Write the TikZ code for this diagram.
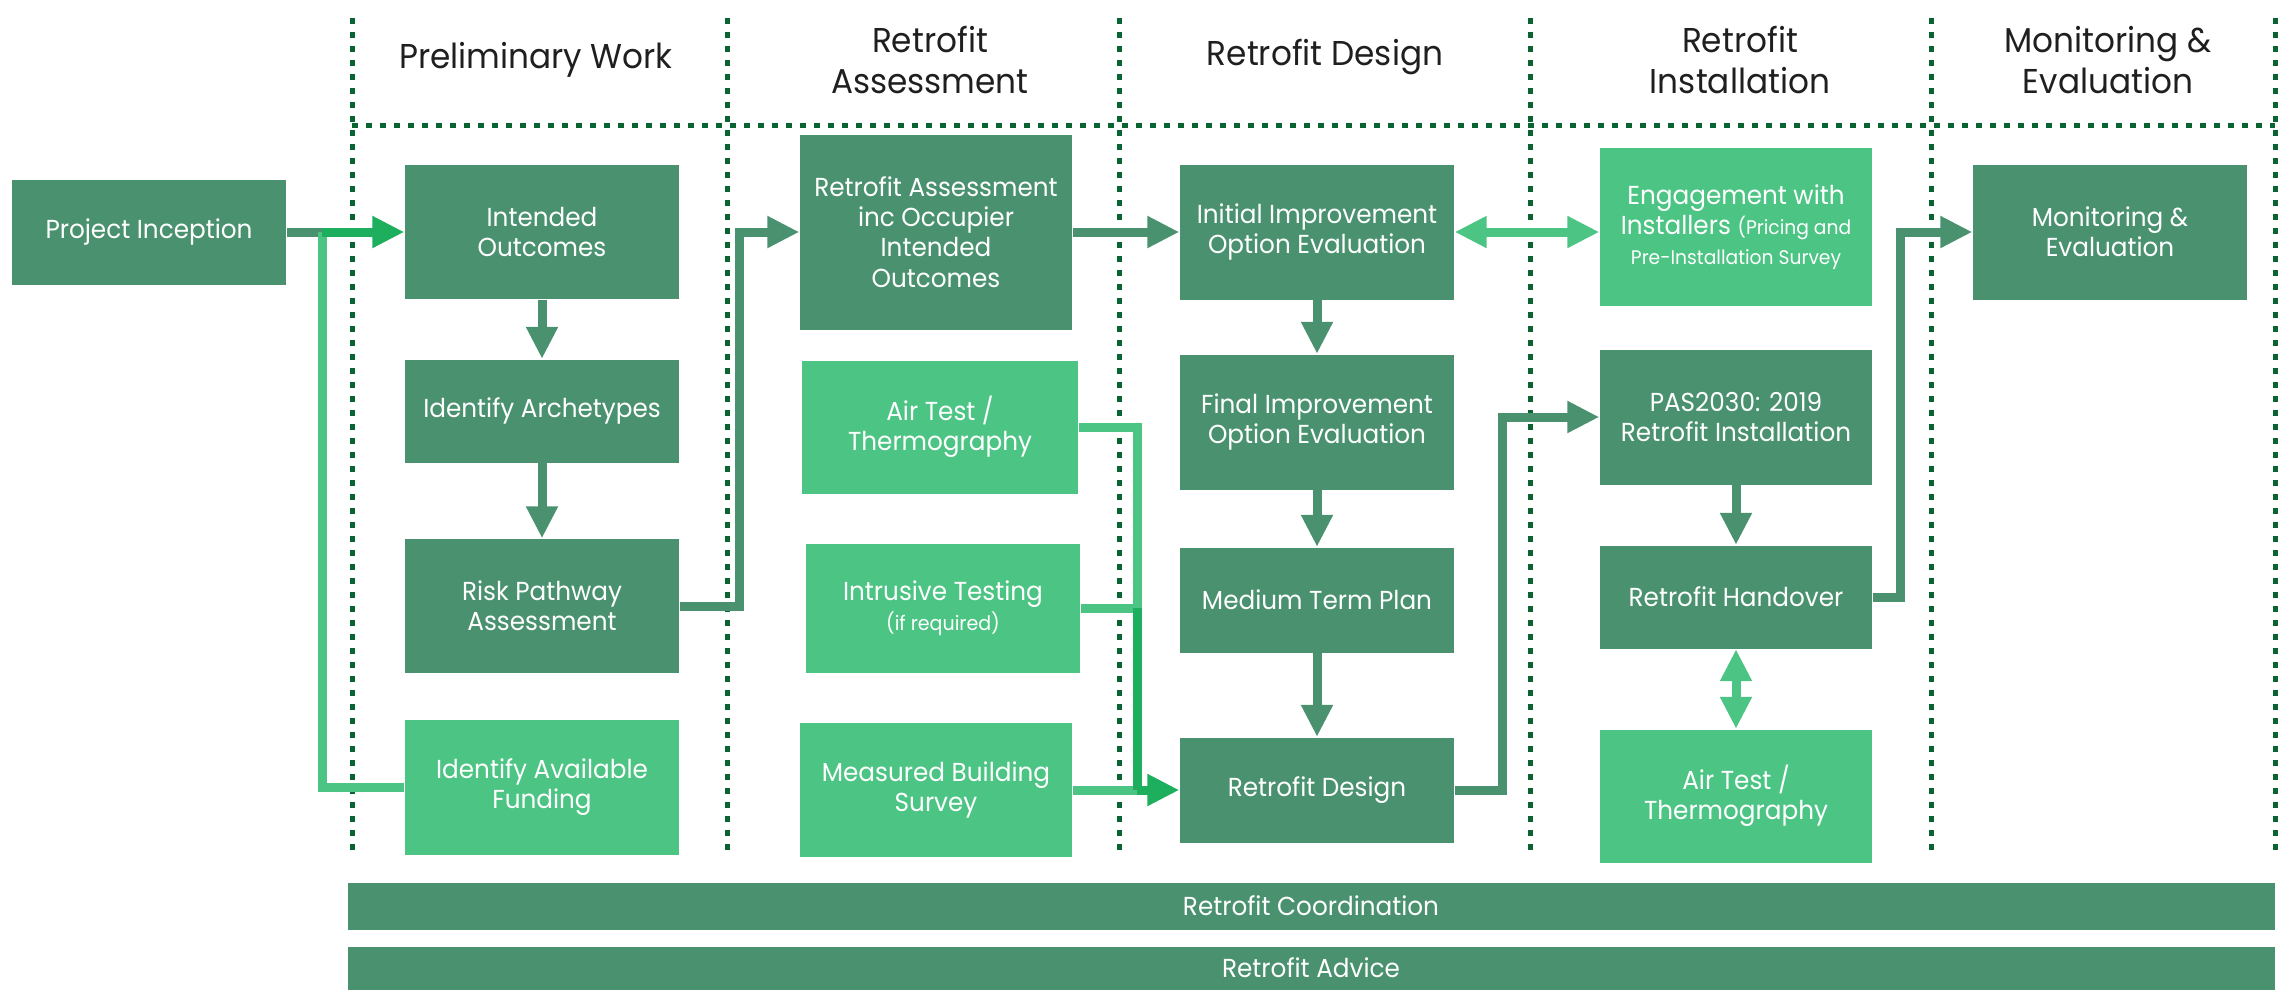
\documentclass[tikz,border=0pt]{standalone}
\usepackage{fontspec}
\setmainfont[FakeStretch=0.95]{Poppins}
\usetikzlibrary{arrows.meta}

\definecolor{boxdark}{HTML}{4A926F}
\definecolor{boxlight}{HTML}{4CC484}
\definecolor{dotgreen}{HTML}{0A6432}
\definecolor{hotgreen}{HTML}{1DAE5E}

\begin{document}
\begin{tikzpicture}[x=0.1mm,y=-0.1mm,every node/.style={text centered},
  darkbox/.style={fill=boxdark,text=white,inner sep=0pt,minimum width=27.4mm,align=center,font=\fontsize{7.4}{8.6}\selectfont},
  lightbox/.style={darkbox,fill=boxlight},
  header/.style={align=center,text=black!88,font=\fontsize{9.8}{11.6}\selectfont},
  divider/.style={dotgreen,line width=0.5mm,dash pattern=on 0.6mm off 0.8mm},
  flow/.style={boxdark,line width=0.9mm,-{Triangle[length=3.2mm,width=3mm]}},
  link/.style={boxlight,line width=0.9mm},
  linkboth/.style={link,{Triangle[length=3.2mm,width=3mm]}-{Triangle[length=3.2mm,width=3mm]}},
  hotflow/.style={flow,hotgreen}]

\useasboundingbox (0,0) rectangle (2279,991);

%% column dividers
\foreach \x in {352,727,1119,1530,1931,2275}
  \draw[divider] (\x,18) -- (\x,855);
\draw[divider] (352,125) -- (2275,125);

%% headers
\node[header] (h1) at (536,60) {Preliminary Work};
\node[header] (h2) at (930,60) {Retrofit\\Assessment};
\node[header] (h3) at (1325,57) {Retrofit Design};
\node[header] (h4) at (1740,60) {Retrofit\\Installation};
\node[header] (h5) at (2108,60) {Monitoring \&\\Evaluation};

%% preliminary work
\node[darkbox,minimum height=10.5mm] (pi) at (149,232) {Project Inception};
\node[darkbox,minimum height=13.4mm] (io) at (542,232) {Intended\\Outcomes};
\node[darkbox,minimum height=10.3mm] (ia) at (542,411) {Identify Archetypes};
\node[darkbox,minimum height=13.4mm] (rpa) at (542,606) {Risk Pathway\\Assessment};
\node[lightbox,minimum height=13.5mm] (iaf) at (542,787) {Identify Available\\Funding};

%% assessment
\node[darkbox,minimum width=27.2mm,minimum height=19.5mm] (raio) at (936,232) {Retrofit Assessment\\inc Occupier\\Intended\\Outcomes};
\node[lightbox,minimum width=27.6mm,minimum height=13.3mm] (at1) at (940,427) {Air Test /\\Thermography};
\node[lightbox,minimum height=12.9mm] (it) at (943,608) {Intrusive Testing\\{\fontsize{5.7}{6.5}\selectfont (if required)}};
\node[lightbox,minimum width=27.2mm,minimum height=13.4mm] (mbs) at (936,790) {Measured Building\\Survey};

%% design
\node[darkbox,minimum height=13.5mm] (iioe) at (1317,232) {Initial Improvement\\Option Evaluation};
\node[darkbox,minimum height=13.5mm] (fioe) at (1317,422) {Final Improvement\\Option Evaluation};
\node[darkbox,minimum height=10.5mm] (mtp) at (1317,600) {Medium Term Plan};
\node[darkbox,minimum height=10.5mm] (rd) at (1317,790) {Retrofit Design};

%% installation
\node[lightbox,minimum width=27.2mm,minimum height=15.8mm] (ewi) at (1736,227) {Engagement with\\Installers {\fontsize{5.6}{6.5}\selectfont (Pricing and}\\{\fontsize{5.6}{6.5}\selectfont Pre-Installation Survey}};
\node[darkbox,minimum width=27.2mm,minimum height=13.5mm] (pas) at (1736,417) {PAS2030: 2019\\Retrofit Installation};
\node[darkbox,minimum width=27.2mm,minimum height=10.3mm] (rh) at (1736,597) {Retrofit Handover};
\node[lightbox,minimum width=27.2mm,minimum height=13.3mm] (at2) at (1736,796) {Air Test /\\Thermography};

%% monitoring
\node[darkbox,minimum height=13.5mm] (me) at (2110,232) {Monitoring \&\\Evaluation};

%% bottom bars
\node[darkbox,minimum width=192.7mm,minimum height=4.7mm] (coord) at (1311,906) {Retrofit Coordination};
\node[darkbox,minimum width=192.7mm,minimum height=4.3mm] (advice) at (1311,968) {Retrofit Advice};

%% connectors
\coordinate (fundjoin) at (322,232);
\draw[boxdark,line width=0.9mm] (pi.east) -- (fundjoin);
\draw[link] (iaf.west) -| (fundjoin);
\draw[hotflow] (fundjoin) -- (io.west);
\draw[flow] (io) -- (ia);
\draw[flow] (ia) -- (rpa);
\draw[flow] (rpa.east) -- ++(60,0) |- (raio.west);

\draw[flow] (raio.east) -- (iioe.west);
\coordinate (testjoin) at (1137,790);
\coordinate (itjoin) at (it.east -| testjoin);
\draw[link] (at1.east) -| (testjoin);
\draw[link] (it.east) -- (itjoin);
\draw[link] (mbs.east) -- (testjoin);
\draw[hotgreen,line width=0.9mm] (itjoin) -- (testjoin);
\draw[hotflow] (testjoin) -- (rd.west);

\draw[linkboth] (iioe.east) -- (iioe.east -| ewi.west);
\draw[flow] (iioe) -- (fioe);
\draw[flow] (fioe) -- (mtp);
\draw[flow] (mtp) -- (rd);
\draw[flow] (rd.east) -- ++(48,0) |- (pas.west);

\draw[flow] (pas) -- (rh);
\draw[linkboth] (rh) -- (at2);
\draw[flow] (rh.east) -- ++(28,0) |- (me.west);

\end{tikzpicture}
\end{document}
